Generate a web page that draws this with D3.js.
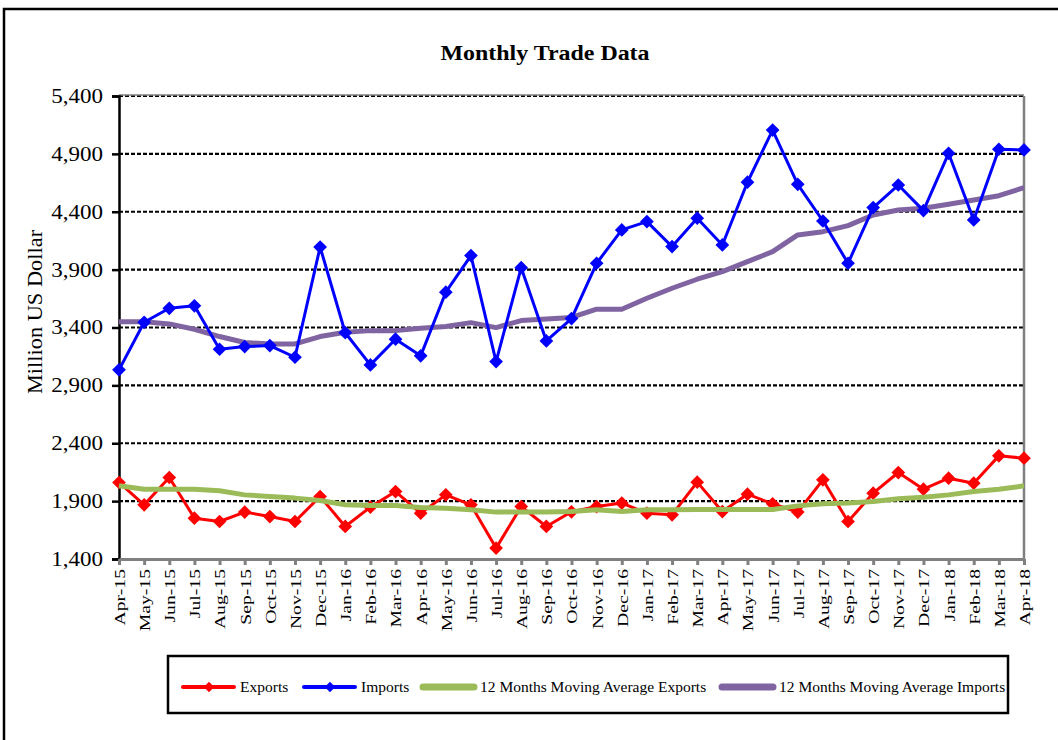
<!DOCTYPE html>
<html>
<head>
<meta charset="utf-8">
<script src="https://cdn.jsdelivr.net/npm/d3@7"></script>
<style>
  body { margin: 0; background: #fff; }
  text { font-family: "Liberation Serif", "Times New Roman", serif; }
</style>
</head>
<body>
<div id="chart"></div>
<script>
const months = ["Apr-15","May-15","Jun-15","Jul-15","Aug-15","Sep-15","Oct-15","Nov-15","Dec-15",
  "Jan-16","Feb-16","Mar-16","Apr-16","May-16","Jun-16","Jul-16","Aug-16","Sep-16","Oct-16","Nov-16","Dec-16",
  "Jan-17","Feb-17","Mar-17","Apr-17","May-17","Jun-17","Jul-17","Aug-17","Sep-17","Oct-17","Nov-17","Dec-17",
  "Jan-18","Feb-18","Mar-18","Apr-18"];

const exportsVals = [2061,1868,2104,1753,1724,1805,1767,1724,1940,1681,1848,1983,1796,1954,1868,1494,1853,1681,1808,
  1853,1883,1796,1782,2064,1810,1960,1877,1805,2084,1724,1969,2147,2003,2098,2055,2291,2271];

const importsVals = [3034,3445,3566,3587,3212,3235,3244,3143,4095,3355,3077,3299,3155,3705,4021,3106,3917,3284,3477,
  3955,4243,4315,4099,4344,4113,4655,5106,4637,4320,3955,4436,4631,4410,4905,4329,4940,4934];

const maExportsVals = [2032,2003,2003,2003,1989,1954,1940,1926,1905,1868,1862,1862,1845,1839,1825,1805,1805,1805,1810,
  1825,1810,1825,1825,1828,1828,1828,1828,1859,1877,1883,1897,1920,1934,1954,1983,2003,2032];

const maImportsVals = [3450,3450,3431,3385,3322,3270,3258,3258,3322,3359,3373,3373,3394,3408,3442,3399,3460,3474,3487,
  3558,3558,3653,3739,3817,3883,3969,4055,4200,4228,4280,4372,4415,4430,4465,4502,4539,4608];

const yTicks = [1400,1900,2400,2900,3400,3900,4400,4900,5400];

const width = 1058, height = 740;
const plotLeft = 119, plotRight = 1024, plotTop = 96, plotBottom = 559;

const svg = d3.select("#chart").append("svg")
  .attr("width", width)
  .attr("height", height);

// outer frame
svg.append("rect")
  .attr("x", 4).attr("y", 9)
  .attr("width", 1070).attr("height", 760)
  .attr("fill", "none").attr("stroke", "#000").attr("stroke-width", 2.5);

svg.append("text")
  .attr("transform", "translate(545,60) scale(1.14,1)")
  .attr("text-anchor", "middle")
  .attr("font-size", 21).attr("font-weight", "bold")
  .text("Monthly Trade Data");

const x = d3.scalePoint().domain(months).range([plotLeft, plotRight]).padding(0);
const y = d3.scaleLinear().domain([1400, 5400]).range([plotBottom, plotTop]);

// gridlines
svg.append("g")
  .selectAll("line")
  .data(yTicks.slice(1))
  .enter()
  .append("line")
    .attr("x1", plotLeft).attr("x2", plotRight)
    .attr("y1", d => y(d)).attr("y2", d => y(d))
    .attr("stroke", "#000").attr("stroke-width", 2.2)
    .attr("stroke-dasharray", "4,2");

// plot border right / top
svg.append("line").attr("x1", plotRight).attr("x2", plotRight).attr("y1", plotTop).attr("y2", plotBottom)
  .attr("stroke", "#808080").attr("stroke-width", 2.5);
svg.append("line").attr("x1", plotLeft).attr("x2", plotRight).attr("y1", plotTop - 1).attr("y2", plotTop - 1)
  .attr("stroke", "#808080").attr("stroke-width", 1.5);

// y axis
const yAxis = svg.append("g")
  .attr("transform", "translate(" + plotLeft + ",0)")
  .call(d3.axisLeft(y).tickValues(yTicks).tickSize(7).tickPadding(5).tickFormat(d3.format(",")));
yAxis.select(".domain").attr("stroke", "#000").attr("stroke-width", 2.5);
yAxis.selectAll(".tick line").attr("stroke", "#000").attr("stroke-width", 2.5);
yAxis.selectAll(".tick text")
  .attr("font-size", 20).attr("font-family", "Liberation Serif").attr("fill", "#000")
  .attr("x", 0)
  .attr("transform", "translate(-16,0) scale(1.15,1)");

// x axis
const sx = 1.27;
const xAxis = svg.append("g")
  .attr("transform", "translate(0," + plotBottom + ")")
  .call(d3.axisBottom(x).tickSize(6).tickSizeOuter(0).tickPadding(6));
xAxis.select(".domain").attr("stroke", "#808080").attr("stroke-width", 3);
xAxis.selectAll(".tick line").attr("stroke", "#808080").attr("stroke-width", 3);
xAxis.selectAll(".tick text")
  .attr("font-size", 15.5).attr("font-family", "Liberation Serif").attr("fill", "#000")
  .attr("transform", "rotate(-90) scale(" + sx + ",1)")
  .attr("text-anchor", "end")
  .attr("x", -10 / sx).attr("y", 0).attr("dy", "0.35em");

svg.append("text")
  .attr("transform", "translate(42,312) rotate(-90) scale(1.12,1)")
  .attr("text-anchor", "middle")
  .attr("font-size", 20)
  .text("Million US Dollar");

const line = d3.line().x((d, i) => x(months[i])).y(d => y(d));
const diamond = d3.symbol().type(d3.symbolDiamond2).size(120);

function drawLine(vals, color, w) {
  svg.append("path").datum(vals)
    .attr("d", line)
    .attr("fill", "none").attr("stroke", color).attr("stroke-width", w)
    .attr("stroke-linejoin", "round");
}
function drawMarkers(vals, color) {
  svg.append("g").selectAll("path")
    .data(vals)
    .enter()
    .append("path")
      .attr("d", diamond)
      .attr("transform", (d, i) => "translate(" + x(months[i]) + "," + y(d) + ")")
      .attr("fill", color);
}

drawLine(maImportsVals, "#8064a2", 5);
drawLine(importsVals, "#0000ff", 3);
drawMarkers(importsVals, "#0000ff");
drawLine(exportsVals, "#ff0000", 3);
drawMarkers(exportsVals, "#ff0000");
drawLine(maExportsVals, "#9bbb59", 5);

// legend
const legend = svg.append("g");
legend.append("rect")
  .attr("x", 168).attr("y", 656).attr("width", 840).attr("height", 57)
  .attr("fill", "#fff").attr("stroke", "#000").attr("stroke-width", 2.5);

const legendItems = [
  { label: "Exports", color: "#ff0000", w: 4, marker: true, x: 183 },
  { label: "Imports", color: "#0000ff", w: 4, marker: true, x: 304 },
  { label: "12 Months Moving Average Exports", color: "#9bbb59", w: 7, marker: false, x: 423 },
  { label: "12 Months Moving Average Imports", color: "#8064a2", w: 7, marker: false, x: 722 }
];
const ly = 687;
legendItems.forEach(it => {
  legend.append("line")
    .attr("x1", it.x).attr("x2", it.x + 51).attr("y1", ly).attr("y2", ly)
    .attr("stroke", it.color).attr("stroke-width", it.w).attr("stroke-linecap", "round");
  if (it.marker) {
    legend.append("path").attr("d", d3.symbol().type(d3.symbolDiamond2).size(70))
      .attr("transform", "translate(" + (it.x + 26) + "," + ly + ")")
      .attr("fill", it.color);
  }
  legend.append("text")
    .attr("x", it.x + 57).attr("y", ly).attr("dy", "0.35em")
    .attr("font-size", 15.5)
    .text(it.label);
});
</script>
</body>
</html>
